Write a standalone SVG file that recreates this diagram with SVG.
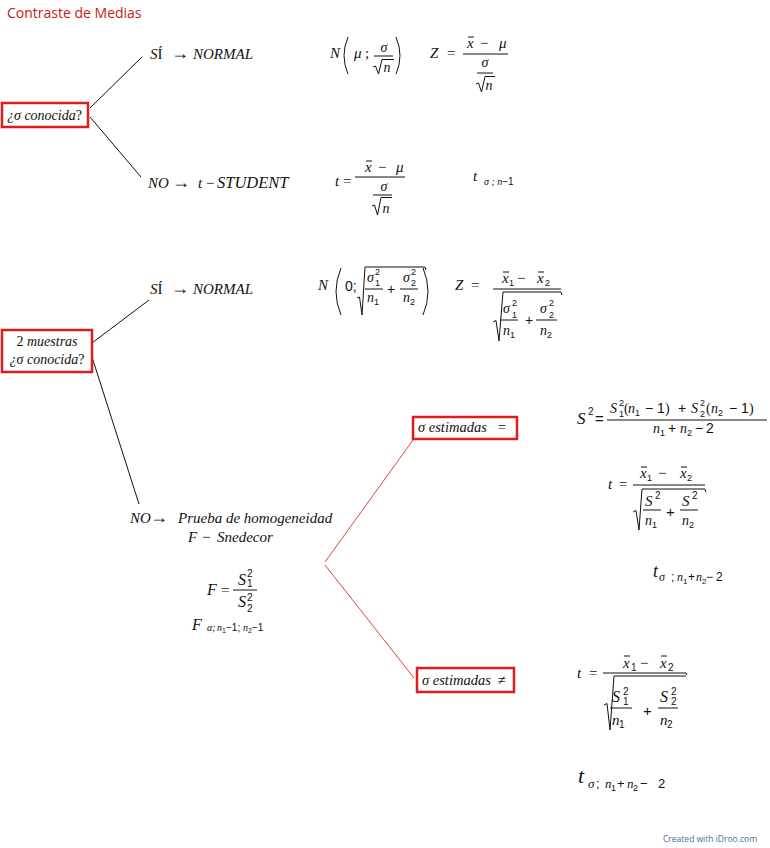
<svg xmlns="http://www.w3.org/2000/svg" width="770" height="848" viewBox="0 0 770 848">
<style>
svg { font-family: "Liberation Serif", "DejaVu Serif", serif; font-style: italic; font-size: 15px; fill: #111; }
.u { font-style: normal; }
.ar { font-style: normal; font-size: 18px; }
.sn { font-family: "Liberation Sans", Arial, sans-serif; font-style: normal; }
.sm { font-size: 9px; }
.s10 { font-size: 10px; }
.box { fill: #fff; stroke: #dd1c1c; stroke-width: 2.5; }
.ln { stroke: #111; stroke-width: 1; fill: none; }
.rl { stroke: #e8403a; stroke-width: 1; fill: none; }
.bar { stroke: #111; stroke-width: 1; }
.title { font-family: "Open Sans", sans-serif; font-style: normal; font-size: 14px; fill: #c41a1a; }
.credit { font-family: "Open Sans", sans-serif; font-style: normal; font-size: 8.5px; fill: #4f6e99; }
</style>
<rect width="770" height="848" fill="#fff"/>
<text class="title" x="7" y="18">Contraste de Medias</text>

<g id="connectors">
<line class="ln" x1="90" y1="108" x2="142" y2="57"/>
<line class="ln" x1="90" y1="117" x2="141" y2="177"/>
<line class="ln" x1="92" y1="343" x2="149" y2="300"/>
<line class="ln" x1="92" y1="357" x2="139" y2="504"/>
<line class="rl" x1="413" y1="440" x2="325" y2="562"/>
<line class="rl" x1="325" y1="565" x2="414" y2="678"/>
</g>

<g id="q1">
<rect class="box" x="2" y="103" width="86" height="24"/>
<text x="7" y="120" font-size="14">¿σ conocida<tspan class="u">?</tspan></text>
</g>

<g id="q1-si">
<text x="150" y="59">S<tspan class="u">Í</tspan><tspan x="171" class="ar">→</tspan><tspan x="193">NORMAL</tspan></text>
<text x="330" y="58">N</text>
<path class="ln" d="M348 37 Q340 55.5 348 74"/>
<text x="354" y="58">μ</text>
<text x="365" y="58" class="u">;</text>
<text x="384" y="52" text-anchor="middle" font-size="14">σ</text>
<line class="bar" x1="374" y1="56" x2="393" y2="56"/>
<path class="ln" d="M373 67 L375.5 66 L378.5 74 L382 59.5 H394"/>
<text x="387" y="72" font-size="14" text-anchor="middle">n</text>
<path class="ln" d="M396 37 Q404 55.5 396 74"/>
<text x="430" y="58">Z</text>
<text x="447" y="58" class="u">=</text>
<line class="bar" x1="463" y1="54" x2="508" y2="54"/>
<text x="467" y="48">x</text>
<line class="bar" x1="468" y1="37" x2="474" y2="37"/>
<text x="480" y="48" class="u">−</text>
<text x="499" y="48">μ</text>
<text x="485" y="67" text-anchor="middle" font-size="14">σ</text>
<line class="bar" x1="477" y1="73" x2="493" y2="73"/>
<path class="ln" d="M476 84 L478.5 83 L481.5 92 L485 76.5 H495"/>
<text x="489" y="90" text-anchor="middle" font-size="14">n</text>
</g>

<g id="q1-no">
<text x="148" y="188">NO<tspan x="172" class="ar">→</tspan><tspan x="198">t</tspan><tspan x="206" class="u">−</tspan><tspan x="217" font-size="16.5">STUDENT</tspan></text>
<text x="335" y="186">t</text>
<text x="343" y="186" class="u">=</text>
<line class="bar" x1="355" y1="177" x2="405" y2="177"/>
<text x="365" y="172">x</text>
<line class="bar" x1="366" y1="161" x2="372" y2="161"/>
<text x="378" y="172" class="u">−</text>
<text x="396" y="172">μ</text>
<text x="384" y="191" text-anchor="middle" font-size="14">σ</text>
<line class="bar" x1="373" y1="195" x2="392" y2="195"/>
<path class="ln" d="M372 206 L374.5 205 L377.5 215 L381 197.5 H392"/>
<text x="386" y="213" text-anchor="middle" font-size="14">n</text>
<text x="473" y="181">t</text>
<text x="484" y="185" font-size="10">σ ; n<tspan class="sn">−1</tspan></text>
</g>

<g id="q2">
<rect class="box" x="2" y="330" width="90" height="42"/>
<text x="47" y="346" text-anchor="middle" font-size="14"><tspan class="u">2</tspan> muestras</text>
<text x="47" y="364" text-anchor="middle" font-size="14">¿σ conocida<tspan class="u">?</tspan></text>
</g>

<g id="q2-si">
<text x="150" y="294">S<tspan class="u">Í</tspan><tspan x="171" class="ar">→</tspan><tspan x="193">NORMAL</tspan></text>
<text x="318" y="290">N</text>
<path class="ln" d="M341 268 Q331 291.5 341 315"/>
<text x="345" y="291" class="sn" font-size="14">0;</text>
<path class="ln" d="M357 298 L359.5 297 L362 315 L365 267 H425 l1 3"/>
<text x="367" y="282" font-size="14">σ</text>
<text x="375" y="275" class="sn sm">2</text>
<text x="375" y="286" class="sn sm">1</text>
<line class="bar" x1="365" y1="289" x2="383" y2="289"/>
<text x="367" y="302" font-size="14">n</text>
<text x="374" y="305" class="sn sm">1</text>
<text x="387" y="294" class="sn" font-size="14">+</text>
<text x="403" y="282" font-size="14">σ</text>
<text x="411" y="275" class="sn sm">2</text>
<text x="411" y="286" class="sn sm">2</text>
<line class="bar" x1="400" y1="289" x2="418" y2="289"/>
<text x="403" y="302" font-size="14">n</text>
<text x="410" y="305" class="sn sm">2</text>
<path class="ln" d="M423 268 Q433 291.5 423 315"/>
<text x="455" y="290">Z</text>
<text x="471" y="290" class="u">=</text>
<line class="bar" x1="493" y1="289" x2="561" y2="289"/>
<text x="502" y="283">x</text>
<line class="bar" x1="503" y1="272" x2="509" y2="272"/>
<text x="509" y="286" class="sn sm">1</text>
<text x="517" y="283" class="u">−</text>
<text x="537" y="283">x</text>
<line class="bar" x1="538" y1="272" x2="544" y2="272"/>
<text x="545" y="286" class="sn sm">2</text>
<path class="ln" d="M493 322 L496 320.5 L499 341 L503 292 H561 l1 3"/>
<text x="503" y="313" font-size="14">σ</text>
<text x="512" y="306" class="sn sm">2</text>
<text x="512" y="318" class="sn sm">1</text>
<line class="bar" x1="500" y1="320" x2="518" y2="320"/>
<text x="503" y="335" font-size="14">n</text>
<text x="510" y="338" class="sn sm">1</text>
<text x="525" y="325" class="sn" font-size="14">+</text>
<text x="540" y="313" font-size="14">σ</text>
<text x="549" y="306" class="sn sm">2</text>
<text x="549" y="318" class="sn sm">2</text>
<line class="bar" x1="536" y1="320" x2="557" y2="320"/>
<text x="540" y="335" font-size="14">n</text>
<text x="547" y="338" class="sn sm">2</text>
</g>

<g id="q2-no">
<text x="130" y="523">NO<tspan x="150" class="ar">→</tspan><tspan x="178">Prueba de homogeneidad</tspan></text>
<text x="188" y="542">F<tspan x="202" class="u">−</tspan><tspan x="217">Snedecor</tspan></text>
<text x="207" y="595" font-size="16">F</text>
<text x="221" y="595" class="u">=</text>
<line class="bar" x1="233" y1="590" x2="257" y2="590"/>
<text x="238" y="585" font-size="16">S</text>
<text x="247" y="577" class="sn s10">2</text>
<text x="247" y="587" class="sn s10">1</text>
<text x="238" y="607" font-size="16">S</text>
<text x="247" y="601" class="sn s10">2</text>
<text x="247" y="612" class="sn s10">2</text>
<text x="192" y="630" font-size="16">F</text>
<text x="207" y="631" font-size="10">α;<tspan x="217">n</tspan><tspan x="222" dy="2" class="sn" font-size="7">1</tspan><tspan x="226" dy="-2" class="sn">−1;</tspan><tspan x="243">n</tspan><tspan x="248" dy="2" class="sn" font-size="7">2</tspan><tspan x="252" dy="-2" class="sn">−1</tspan></text>
</g>

<g id="eq">
<rect class="box" x="413" y="417" width="104" height="22"/>
<text x="418" y="432" font-size="14.5">σ estimadas<tspan x="498" class="u">=</tspan></text>
</g>

<g id="eq-formulas">
<text x="577" y="424" font-size="17">S</text>
<text x="588" y="415" class="sn s10">2</text>
<text x="595" y="424" class="sn" font-size="15">=</text>
<line class="bar" x1="607" y1="420" x2="767" y2="420"/>
<text y="413" font-size="14"><tspan x="610">S</tspan><tspan x="624" class="u">(</tspan><tspan x="628">n</tspan><tspan x="645" class="sn">−</tspan><tspan x="657" class="sn">1</tspan><tspan x="665" class="u">)</tspan><tspan x="678" class="sn">+</tspan><tspan x="691">S</tspan><tspan x="706" class="u">(</tspan><tspan x="711">n</tspan><tspan x="729" class="sn">−</tspan><tspan x="741" class="sn">1</tspan><tspan x="749" class="u">)</tspan></text>
<text x="619" y="406" class="sn sm">2</text>
<text x="619" y="417" class="sn sm">1</text>
<text x="635" y="416" class="sn sm">1</text>
<text x="700" y="406" class="sn sm">2</text>
<text x="700" y="417" class="sn sm">2</text>
<text x="718" y="416" class="sn sm">2</text>
<text y="433" font-size="14"><tspan x="653">n</tspan><tspan x="668" class="sn">+</tspan><tspan x="680">n</tspan><tspan x="695" class="sn">−</tspan><tspan x="706" class="sn">2</tspan></text>
<text x="660" y="436" class="sn sm">1</text>
<text x="687" y="436" class="sn sm">2</text>

<text x="608" y="489">t</text>
<text x="619" y="489" class="u">=</text>
<line class="bar" x1="633" y1="485" x2="705" y2="485"/>
<text x="640" y="478">x</text>
<line class="bar" x1="641" y1="467" x2="647" y2="467"/>
<text x="647" y="481" class="sn sm">1</text>
<text x="658" y="478" class="u">−</text>
<text x="680" y="478">x</text>
<line class="bar" x1="681" y1="467" x2="687" y2="467"/>
<text x="687" y="481" class="sn sm">2</text>
<path class="ln" d="M633 512 L636 510.5 L639 530 L642 489 H705 l1 3"/>
<text x="645" y="506">S</text>
<text x="655" y="499" class="sn s10">2</text>
<line class="bar" x1="643" y1="510" x2="661" y2="510"/>
<text x="645" y="525" font-size="14">n</text>
<text x="652" y="528" class="sn sm">1</text>
<text x="666" y="517" class="sn">+</text>
<text x="682" y="506">S</text>
<text x="692" y="499" class="sn s10">2</text>
<line class="bar" x1="680" y1="510" x2="698" y2="510"/>
<text x="682" y="525" font-size="14">n</text>
<text x="689" y="528" class="sn sm">2</text>

<text x="653" y="577" font-size="18">t</text>
<text y="581" font-size="12"><tspan x="659">σ</tspan><tspan x="671" class="sn">;</tspan><tspan x="677">n</tspan><tspan x="688" class="sn">+</tspan><tspan x="696">n</tspan><tspan x="706" class="sn">−</tspan><tspan x="716" class="sn">2</tspan></text>
<text x="683" y="584" class="sn" font-size="8">1</text>
<text x="702" y="584" class="sn" font-size="8">2</text>
</g>

<g id="neq">
<rect class="box" x="417" y="668" width="97" height="24"/>
<text x="422" y="685" font-size="14.5">σ estimadas<tspan x="498" class="u">≠</tspan></text>
</g>

<g id="neq-formulas">
<text x="577" y="678">t</text>
<text x="589" y="678" class="u">=</text>
<path class="ln" d="M603 673 H686 l1 2"/>
<text x="623" y="668">x</text>
<line class="bar" x1="624" y1="656" x2="630" y2="656"/>
<text x="631" y="671" class="sn s10">1</text>
<text x="640" y="668" class="u">−</text>
<text x="660" y="668">x</text>
<line class="bar" x1="661" y1="656" x2="667" y2="656"/>
<text x="668" y="671" class="sn s10">2</text>
<path class="ln" d="M604 705 L607 703.5 L610 730 L614 676 H686"/>
<text x="612" y="702" font-size="16">S</text>
<text x="623" y="695" class="sn s10">2</text>
<text x="623" y="705" class="sn s10">1</text>
<line class="bar" x1="610" y1="708" x2="632" y2="708"/>
<text x="612" y="725">n</text>
<text x="619" y="728" class="sn s10">1</text>
<text x="643" y="716" class="sn">+</text>
<text x="660" y="702" font-size="16">S</text>
<text x="671" y="695" class="sn s10">2</text>
<text x="671" y="705" class="sn s10">2</text>
<line class="bar" x1="658" y1="708" x2="678" y2="708"/>
<text x="660" y="725">n</text>
<text x="667" y="728" class="sn s10">2</text>

<text x="578" y="783" font-size="22">t</text>
<text y="788" font-size="13"><tspan x="588">σ</tspan><tspan x="596" class="sn">;</tspan><tspan x="605">n</tspan><tspan x="617" class="sn">+</tspan><tspan x="627">n</tspan><tspan x="640" class="sn">−</tspan><tspan x="658" class="sn">2</tspan></text>
<text x="611" y="791" class="sn sm">1</text>
<text x="633" y="791" class="sn sm">2</text>
</g>

<text class="credit" x="663" y="842">Created with iDroo.com</text>
</svg>
